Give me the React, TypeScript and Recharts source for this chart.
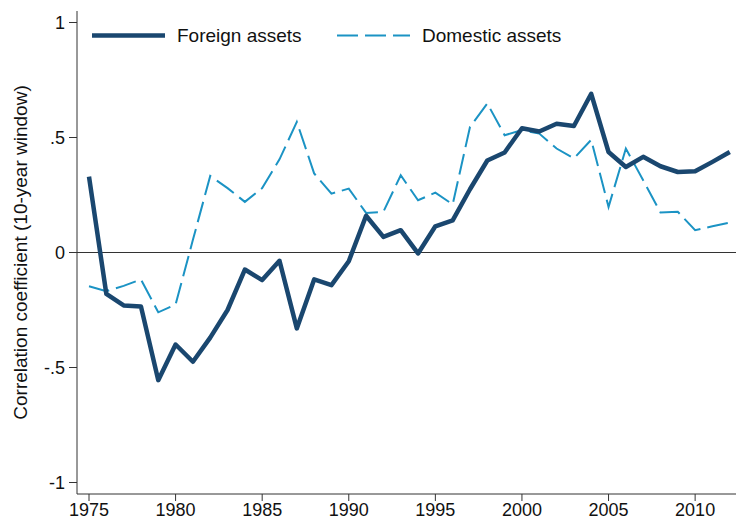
import React from 'react';
import { LineChart, Line, XAxis, YAxis, ReferenceLine } from 'recharts';

const years = [
  1975, 1976, 1977, 1978, 1979, 1980, 1981, 1982, 1983, 1984, 1985, 1986, 1987,
  1988, 1989, 1990, 1991, 1992, 1993, 1994, 1995, 1996, 1997, 1998, 1999, 2000,
  2001, 2002, 2003, 2004, 2005, 2006, 2007, 2008, 2009, 2010, 2011, 2012,
];

const foreignAssets = [
  0.33, -0.18, -0.23, -0.235, -0.555, -0.40, -0.475, -0.37, -0.25, -0.074, -0.12, -0.036, -0.33,
  -0.117, -0.142, -0.038, 0.16, 0.068, 0.097, -0.004, 0.114, 0.14, 0.275, 0.40, 0.435, 0.54,
  0.526, 0.56, 0.55, 0.69, 0.437, 0.372, 0.416, 0.375, 0.35, 0.353, 0.394, 0.437,
];

const domesticAssets = [
  -0.147, -0.168, -0.145, -0.117, -0.26, -0.226, 0.055, 0.333, 0.28, 0.22, 0.28, 0.405, 0.568,
  0.344, 0.256, 0.278, 0.172, 0.177, 0.336, 0.227, 0.26, 0.209, 0.546, 0.648, 0.51, 0.532,
  0.517, 0.452, 0.409, 0.49, 0.198, 0.452, 0.314, 0.174, 0.177, 0.097, 0.114, 0.13,
];

const xTicks = [1975, 1980, 1985, 1990, 1995, 2000, 2005, 2010];
const yTicks = [-1, -0.5, 0, 0.5, 1];

const data = years.map((year, i) => ({
  year,
  foreign: foreignAssets[i],
  domestic: domesticAssets[i],
}));

const FONT = '"Liberation Sans", Arial, sans-serif';
const NAVY = '#1a476f';
const BLUE = '#1b93c4';
const AXIS = '#333333';

// stata-style labels: .5 / -.5
const fmtY = (v: number) => {
  if (v === 0) return '0';
  if (Math.abs(v) === 1) return String(v);
  return v < 0 ? '-.' + String(Math.abs(v)).split('.')[1] : '.' + String(v).split('.')[1];
};

const LegendOverlay = () => (
  <div style={{ position: 'absolute', left: 0, top: 0, width: 736, height: 60, pointerEvents: 'none' }}>
    <svg width={736} height={60} style={{ position: 'absolute', left: 0, top: 0 }}>
      <line x1={92} y1={35.5} x2={165} y2={35.5} stroke={NAVY} strokeWidth={4.5} />
      <text x={177} y={42} fontSize={19} fontFamily={FONT} fill="#111">Foreign assets</text>
      <line x1={337} y1={35.5} x2={410} y2={35.5} stroke={BLUE} strokeWidth={2} strokeDasharray="21 7" />
      <text x={422} y={42} fontSize={19} fontFamily={FONT} fill="#111">Domestic assets</text>
    </svg>
  </div>
);

export default function App() {
  return (
    <div style={{ position: 'absolute', left: 0, top: 0, width: 736, height: 522, background: '#fff' }}>
      <LineChart
        width={736}
        height={522}
        data={data}
        margin={{ top: 11, right: 0, bottom: 0, left: 0 }}
      >
        <XAxis
          dataKey="year"
          type="number"
          domain={[1974.307, 2012.36]}
          ticks={xTicks}
          allowDataOverflow
          height={28}
          stroke={AXIS}
          tickSize={7}
          tickMargin={2}
          tick={{ fill: '#111', fontSize: 18, fontFamily: FONT }}
          interval={0}
        />
        <YAxis
          type="number"
          domain={[-1.05, 1.05]}
          ticks={yTicks}
          allowDataOverflow
          width={77}
          stroke={AXIS}
          tickSize={8}
          tickMargin={4}
          tickFormatter={fmtY}
          tick={{ fill: '#111', fontSize: 18, fontFamily: FONT }}
          interval={0}
          label={{
            value: 'Correlation coefficient (10-year window)',
            angle: -90,
            position: 'insideLeft',
            offset: 0,
            dx: 20,
            style: { fill: '#111', fontSize: 19, fontFamily: FONT, textAnchor: 'middle' },
          }}
        />
        <ReferenceLine y={0} stroke={AXIS} strokeWidth={1} />
        <Line
          type="linear"
          dataKey="domestic"
          stroke={BLUE}
          strokeWidth={2}
          strokeDasharray="21 7"
          dot={false}
          isAnimationActive={false}
        />
        <Line
          type="linear"
          dataKey="foreign"
          stroke={NAVY}
          strokeWidth={4.5}
          strokeLinejoin="round"
          dot={false}
          isAnimationActive={false}
        />
      </LineChart>
      <LegendOverlay />
    </div>
  );
}
